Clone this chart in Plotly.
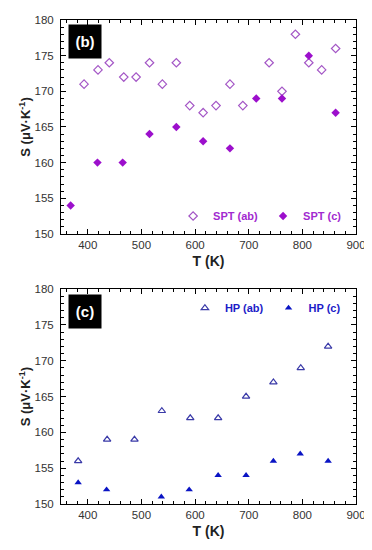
import plotly.graph_objects as go

# Panel (b): SPT
spt_ab_T = [393, 419, 440, 467, 490, 515, 539, 565, 590, 615, 639, 665, 689, 738, 762, 787, 812, 836, 862]
spt_ab_S = [171, 173, 174, 172, 172, 174, 171, 174, 168, 167, 168, 171, 168, 174, 170, 178, 174, 173, 176]
spt_c_T = [368, 418, 465, 515, 565, 615, 665, 714, 762, 812, 862]
spt_c_S = [154, 160, 160, 164, 165, 163, 162, 169, 169, 175, 167]

# Panel (c): HP
hp_ab_T = [382, 436, 487, 538, 591, 643, 695, 746, 797, 848]
hp_ab_S = [156, 159, 159, 163, 162, 162, 165, 167, 169, 172]
hp_c_T = [382, 435, 537, 589, 643, 695, 746, 796, 848]
hp_c_S = [153, 152, 151, 152, 154, 154, 156, 157, 156]

x_ticks = [400, 500, 600, 700, 800, 900]
y_ticks = [150, 155, 160, 165, 170, 175, 180]

FONT = "Arial, Liberation Sans, sans-serif"
PURPLE_OPEN = "#a457c6"
PURPLE_FILL = "#9c0fcc"
PURPLE_TXT = "#a22ad0"
BLUE_OPEN = "#3a3aa8"
BLUE_FILL = "#0a14c4"
BLUE_TXT = "#1c1cc8"

fig = go.Figure()
fig.add_trace(go.Scatter(x=spt_ab_T, y=spt_ab_S, mode="markers", name="<b>SPT (ab)</b>",
                         marker=dict(symbol="diamond-open", size=6.5, color=PURPLE_OPEN, line=dict(width=1.2)),
                         xaxis="x", yaxis="y", legend="legend"))
fig.add_trace(go.Scatter(x=spt_c_T, y=spt_c_S, mode="markers", name="<b>SPT (c)</b>",
                         marker=dict(symbol="diamond", size=6.5, color=PURPLE_FILL),
                         xaxis="x", yaxis="y", legend="legend"))
fig.add_trace(go.Scatter(x=hp_ab_T, y=hp_ab_S, mode="markers", name="<b>HP (ab)</b>",
                         marker=dict(symbol="triangle-up-open", size=6.5, color=BLUE_OPEN, line=dict(width=1.2)),
                         xaxis="x2", yaxis="y2", legend="legend2"))
fig.add_trace(go.Scatter(x=hp_c_T, y=hp_c_S, mode="markers", name="<b>HP (c)</b>",
                         marker=dict(symbol="triangle-up", size=6.5, color=BLUE_FILL),
                         xaxis="x2", yaxis="y2", legend="legend2"))

ax_common = dict(
    showline=True, linecolor="black", linewidth=1, mirror="ticks",
    ticks="inside", ticklen=5, tickcolor="black", tickwidth=1,
    showgrid=False, zeroline=False,
    tickfont=dict(family=FONT, size=11.5, color="#333333"),
    minor=dict(ticks="inside", ticklen=3, tickcolor="black", tickwidth=1, showgrid=False),
)
xa = dict(ax_common, range=[350, 900], tickvals=x_ticks, minor=dict(ax_common["minor"], dtick=20, tick0=400),
          title=dict(text="<b>T (K)</b>", font=dict(family=FONT, size=14, color="#222222"), standoff=6))
ya = dict(ax_common, range=[150, 180], tickvals=y_ticks, minor=dict(ax_common["minor"], dtick=1, tick0=150),
          ticklabelstandoff=4,
          title=dict(text="<b>S (μV·K<sup>-1</sup>)</b>", font=dict(family=FONT, size=13, color="#222222"), standoff=0))

fig.update_layout(
    width=364, height=542,
    margin=dict(l=53, r=16, t=6, b=46),
    paper_bgcolor="white", plot_bgcolor="white",
    font=dict(family=FONT),
    xaxis=dict(xa, domain=[0, 1], anchor="y"),
    yaxis=dict(ya, domain=[0.558, 1], anchor="x"),
    xaxis2=dict(xa, domain=[0, 1], anchor="y2"),
    yaxis2=dict(ya, domain=[0, 0.444], anchor="x2"),
    legend=dict(orientation="h", x=0.38, y=0.595, xanchor="left", yanchor="middle",
                font=dict(family=FONT, size=11, color=PURPLE_TXT), bgcolor="rgba(0,0,0,0)",
                itemwidth=30, tracegroupgap=0),
    legend2=dict(orientation="h", x=0.42, y=0.405, xanchor="left", yanchor="middle",
                 font=dict(family=FONT, size=11, color=BLUE_TXT), bgcolor="rgba(0,0,0,0)",
                 itemwidth=30, tracegroupgap=0),
    showlegend=True,
)

fig.add_annotation(text="<b>(b)</b>", xref="x domain", yref="y domain", x=0.025, y=0.98,
                   xanchor="left", yanchor="top", showarrow=False,
                   font=dict(family=FONT, size=15, color="white"), bgcolor="black",
                   width=30, height=31)
fig.add_annotation(text="<b>(c)</b>", xref="x2 domain", yref="y2 domain", x=0.025, y=0.975,
                   xanchor="left", yanchor="top", showarrow=False,
                   font=dict(family=FONT, size=15, color="white"), bgcolor="black",
                   width=30, height=31)

fig.write_html("out.html")
